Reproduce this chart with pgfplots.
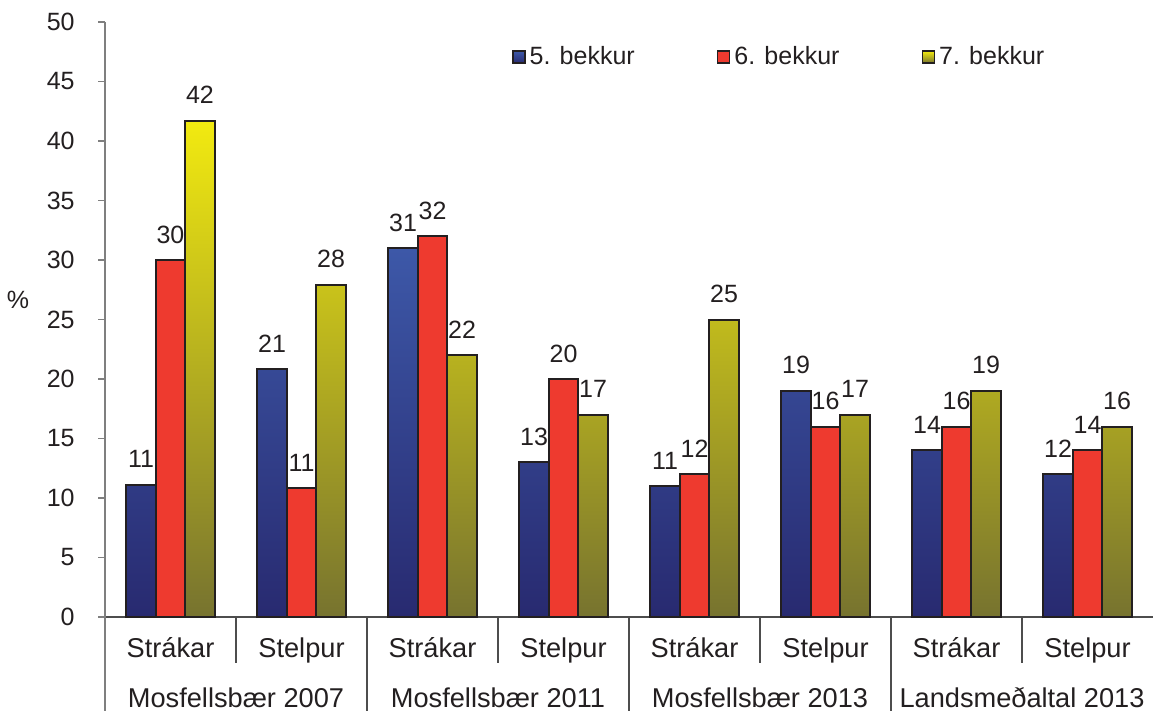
\documentclass[border=0pt]{standalone}
\usepackage{fontspec}
\setmainfont{Liberation Sans}
\usepackage{pgfplots}
\pgfplotsset{compat=1.18}
\definecolor{txt}{HTML}{231F20}
\definecolor{axisgray}{HTML}{7F7F7F}
\definecolor{sepgray}{HTML}{4D4D4D}
\definecolor{barline}{HTML}{231F20}
\definecolor{blueT}{HTML}{3D58A8}
\definecolor{blueB}{HTML}{282A70}
\definecolor{redC}{HTML}{EE3A2F}
\definecolor{yelT}{HTML}{F2EA10}
\definecolor{yelB}{HTML}{77732F}
\newcommand{\lfont}{\fontsize{12.5}{15}\selectfont}
\newcommand{\cfont}{\fontsize{13.6}{16}\selectfont}
\begin{document}
\begin{tikzpicture}
\useasboundingbox (0,0) rectangle (577pt,355.5pt);
\begin{axis}[
  at={(52.5pt,47pt)}, anchor=south west,
  scale only axis, width=524pt, height=297.5pt,
  ymin=0, ymax=50, ytick={0,5,...,50},
  xmin=-0.5, xmax=7.5, xtick=\empty,
  axis lines=left,
  axis line style={-, draw=axisgray, line width=0.6pt},
  x axis line style={draw=sepgray},
  tick align=outside, major tick length=3.5pt,
  ytick style={draw=axisgray, line width=0.6pt},
  tick label style={text=txt, font=\lfont},
  yticklabel style={anchor=east, inner sep=0pt, xshift=-11.5pt},
  /pgf/number format/assume math mode=true,
  ybar=0pt, bar width=14.75pt,
  clip=false,
  nodes near coords={\pgfmathprintnumber[fixed,precision=0]{\pgfplotspointmeta}},
  every node near coord/.append style={anchor=base, inner sep=0pt, yshift=8.5pt, text=txt, font=\lfont},
  legend columns=3,
  legend style={at={(0.388,0.941)}, anchor=west, draw=none, fill=none, inner sep=0pt,
    font=\lfont, text=txt, cells={anchor=west},
    /tikz/every even column/.append style={column sep=39pt}},
  legend image code/.code={\draw[#1, draw=barline, line width=0.8pt] (0pt,-3pt) rectangle (6pt,3pt);},
]
\addplot[draw=barline, line width=1pt, top color=blueT, bottom color=blueB]
  coordinates {(0,11.1) (1,20.8) (2,31) (3,13) (4,11) (5,19) (6,14) (7,12)};
\addplot[draw=barline, line width=1pt, fill=redC]
  coordinates {(0,30) (1,10.8) (2,32) (3,20) (4,12) (5,16) (6,16) (7,14)};
\addplot[draw=barline, line width=1pt, top color=yelT, bottom color=yelB]
  coordinates {(0,41.7) (1,27.9) (2,22) (3,17) (4,25) (5,17) (6,19) (7,16)};
\legend{5. bekkur,6. bekkur,7. bekkur}
\draw[sepgray, line width=0.6pt] (axis cs:0.5,0) -- ++(0pt,-23pt);
\draw[sepgray, line width=0.6pt] (axis cs:2.5,0) -- ++(0pt,-23pt);
\draw[sepgray, line width=0.6pt] (axis cs:4.5,0) -- ++(0pt,-23pt);
\draw[sepgray, line width=0.6pt] (axis cs:6.5,0) -- ++(0pt,-23pt);
\draw[axisgray, line width=0.6pt] (axis cs:-0.5,0) -- ++(0pt,-47pt);
\draw[sepgray, line width=0.6pt] (axis cs:1.5,0) -- ++(0pt,-47pt);
\draw[sepgray, line width=0.6pt] (axis cs:3.5,0) -- ++(0pt,-47pt);
\draw[sepgray, line width=0.6pt] (axis cs:5.5,0) -- ++(0pt,-47pt);
\node[anchor=base, inner sep=0pt, text=txt, font=\cfont] at ([yshift=-20pt]axis cs:0,0) {Strákar};
\node[anchor=base, inner sep=0pt, text=txt, font=\cfont] at ([yshift=-20pt]axis cs:1,0) {Stelpur};
\node[anchor=base, inner sep=0pt, text=txt, font=\cfont] at ([yshift=-20pt]axis cs:2,0) {Strákar};
\node[anchor=base, inner sep=0pt, text=txt, font=\cfont] at ([yshift=-20pt]axis cs:3,0) {Stelpur};
\node[anchor=base, inner sep=0pt, text=txt, font=\cfont] at ([yshift=-20pt]axis cs:4,0) {Strákar};
\node[anchor=base, inner sep=0pt, text=txt, font=\cfont] at ([yshift=-20pt]axis cs:5,0) {Stelpur};
\node[anchor=base, inner sep=0pt, text=txt, font=\cfont] at ([yshift=-20pt]axis cs:6,0) {Strákar};
\node[anchor=base, inner sep=0pt, text=txt, font=\cfont] at ([yshift=-20pt]axis cs:7,0) {Stelpur};
\node[anchor=base, inner sep=0pt, text=txt, font=\cfont] at ([yshift=-45pt]axis cs:0.5,0) {Mosfellsbær 2007};
\node[anchor=base, inner sep=0pt, text=txt, font=\cfont] at ([yshift=-45pt]axis cs:2.5,0) {Mosfellsbær 2011};
\node[anchor=base, inner sep=0pt, text=txt, font=\cfont] at ([yshift=-45pt]axis cs:4.5,0) {Mosfellsbær 2013};
\node[anchor=base, inner sep=0pt, text=txt, font=\cfont] at ([yshift=-45pt]axis cs:6.5,0) {Landsmeðaltal 2013};
\node[text=txt, font=\lfont, inner sep=0pt] at ([xshift=-43.5pt]rel axis cs:0,0.533) {\%};
\end{axis}
\end{tikzpicture}
\end{document}
